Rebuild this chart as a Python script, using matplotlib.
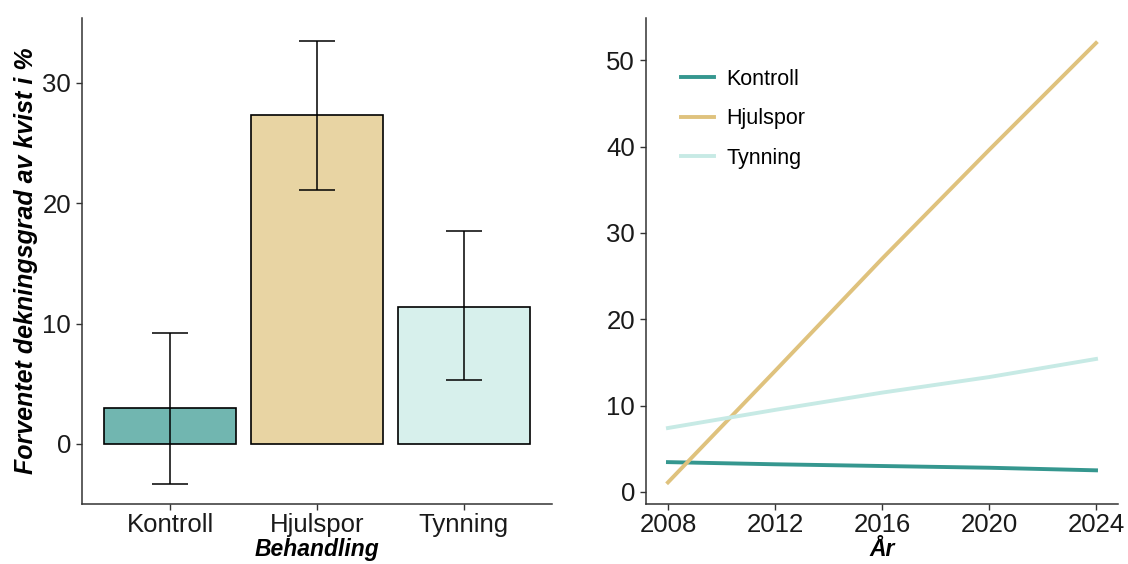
import matplotlib.pyplot as plt
import numpy as np
from matplotlib.colors import to_rgba

plt.rcParams['font.family'] = ['Liberation Sans', 'DejaVu Sans']

# Treatment means with confidence interval limits
behandling = ['Kontroll', 'Hjulspor', 'Tynning']
dekning = [3.0, 27.3, 11.4]
ci_lav = [-3.3, 21.1, 5.3]
ci_hoy = [9.2, 33.5, 17.7]

# Predicted cover over time per treatment
aar = [2008, 2012, 2016, 2020, 2024]
kontroll_trend = [3.45, 3.2, 3.0, 2.8, 2.5]
hjulspor_trend = [1.1, 14.0, 27.0, 39.6, 52.0]
tynning_trend = [7.4, 9.5, 11.5, 13.3, 15.4]

farger = ['#35978f', '#dfc27d', '#c7eae5']
bar_farger = [to_rgba(c, 0.7) for c in farger]

fig = plt.figure(figsize=(11.28, 5.64), dpi=100)
ax1 = fig.add_axes([0.0727, 0.1064, 0.4167, 0.8617])
ax2 = fig.add_axes([0.5727, 0.1064, 0.4184, 0.8617])

tittel = dict(fontsize=16.5, fontweight='bold', fontstyle='italic', color='black')

# Bar chart with error bars
x = np.arange(1, len(behandling) + 1)
ax1.bar(x, dekning, width=0.9, color=bar_farger, edgecolor='black', linewidth=1.2, zorder=2)
yerr = [np.array(dekning) - np.array(ci_lav), np.array(ci_hoy) - np.array(dekning)]
ax1.errorbar(x, dekning, yerr=yerr, fmt='none', ecolor='black', elinewidth=1.1,
             capsize=13, capthick=1.1, zorder=3)
ax1.set_xlim(0.4, 3.6)
ax1.set_ylim(-5.0, 35.4)
ax1.set_xticks(x)
ax1.set_xticklabels(behandling)
ax1.set_yticks([0, 10, 20, 30])
ax1.set_xlabel('Behandling', va='top', **tittel)
ax1.xaxis.set_label_coords(0.5, -0.0705)
ax1.set_ylabel('Forventet dekningsgrad av kvist i %', va='bottom',
               **dict(tittel, fontsize=18))
ax1.yaxis.set_label_coords(-0.094, 0.5)

# Trend lines
ax2.plot(aar, kontroll_trend, color=farger[0], lw=2.8, label='Kontroll')
ax2.plot(aar, hjulspor_trend, color=farger[1], lw=2.8, label='Hjulspor')
ax2.plot(aar, tynning_trend, color=farger[2], lw=2.8, label='Tynning')
ax2.set_xlim(2007.18, 2024.82)
ax2.set_ylim(-1.4, 54.9)
ax2.set_xticks([2008, 2012, 2016, 2020, 2024])
ax2.set_yticks([0, 10, 20, 30, 40, 50])
ax2.set_xlabel('År', va='top', **tittel)
ax2.xaxis.set_label_coords(0.5, -0.0705)
ax2.legend(loc='upper left', bbox_to_anchor=(0.033, 0.935), frameon=False,
           fontsize=15.5, handlelength=1.55, handletextpad=0.55, labelspacing=0.86)

for ax in (ax1, ax2):
    for side in ('top', 'right'):
        ax.spines[side].set_visible(False)
    for side in ('left', 'bottom'):
        ax.spines[side].set_color('#333333')
        ax.spines[side].set_linewidth(1.1)
    ax.tick_params(length=4, width=1, color='#333333', labelsize=18.5,
                   labelcolor='#1a1a1a', pad=4)
    ax.tick_params(axis='x', pad=2.5)

fig.savefig('out.png', dpi=100)
